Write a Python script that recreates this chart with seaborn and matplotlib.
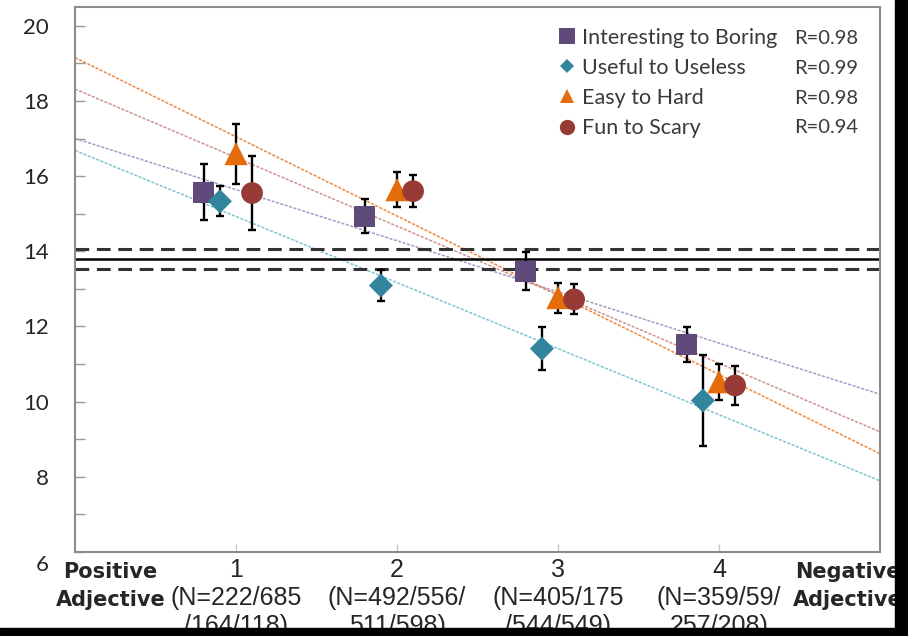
import numpy as np
import pandas as pd
import matplotlib
matplotlib.use('Agg')
import matplotlib.pyplot as plt
import matplotlib.transforms as mtransforms
from matplotlib.lines import Line2D
from matplotlib.patches import Rectangle
import seaborn as sns

# category positions on the scale and their labels
levels = [1, 2, 3, 4]
tick_labels = ['1\n(N=222/685\n/164/118)', '2\n(N=492/556/\n511/598)',
               '3\n(N=405/175\n/544/549)', '4\n(N=359/59/\n257/208)']

series = ['Interesting to Boring', 'Useful to Useless', 'Easy to Hard', 'Fun to Scary']
r_values = ['R=0.98', 'R=0.99', 'R=0.98', 'R=0.94']

# means and error bars
boring_mean = [15.57, 14.93, 13.47, 11.52]
boring_err = [0.75, 0.45, 0.50, 0.47]
useless_mean = [15.33, 13.09, 11.41, 10.03]
useless_err = [0.40, 0.41, 0.58, 1.20]
hard_mean = [16.60, 15.64, 12.77, 10.53]
hard_err = [0.80, 0.47, 0.40, 0.48]
scary_mean = [15.55, 15.60, 12.72, 10.43]
scary_err = [0.98, 0.43, 0.40, 0.53]

# overall mean with its band
baseline = 13.79
baseline_band = 0.27

dodge = {'Interesting to Boring': -0.2, 'Useful to Useless': -0.1,
         'Easy to Hard': 0.0, 'Fun to Scary': 0.1}
marker_colors = {'Interesting to Boring': '#604a7b', 'Useful to Useless': '#31859c',
                 'Easy to Hard': '#e46c0a', 'Fun to Scary': '#983a36'}
line_colors = {'Interesting to Boring': '#a89ac4', 'Useful to Useless': '#80c3d3',
               'Easy to Hard': '#f0873a', 'Fun to Scary': '#cc9490'}
marker_map = {'Interesting to Boring': 's', 'Useful to Useless': 'D',
              'Easy to Hard': '^', 'Fun to Scary': 'o'}
size_map = {'Interesting to Boring': 225, 'Useful to Useless': 150,
            'Easy to Hard': 280, 'Fun to Scary': 245}

means = [boring_mean, useless_mean, hard_mean, scary_mean]
errs = [boring_err, useless_err, hard_err, scary_err]
rows = []
for name, m, e in zip(series, means, errs):
    for lv, mv, ev in zip(levels, m, e):
        rows.append({'series': name, 'level': lv, 'xpos': lv + dodge[name],
                     'mean': mv, 'err': ev})
df = pd.DataFrame(rows)

sns.set_style('white')
plt.rcParams['font.family'] = ['Liberation Sans', 'DejaVu Sans']

fig = plt.figure(figsize=(9.08, 6.36), dpi=100)
ax = fig.add_axes([75 / 908, 1 - 552 / 636, 805 / 908, 545 / 636])
ax.set_xlim(0, 5)
ax.set_ylim(6, 20.5)

# regression lines across the whole axis
for name in series:
    sub = df[df.series == name]
    sns.regplot(x=sub.xpos, y=sub['mean'], ax=ax, scatter=False, ci=None,
                truncate=False, color=line_colors[name],
                line_kws={'lw': 1.1, 'ls': (0, (2, 1)), 'zorder': 1})

ax.axhline(baseline, color='black', lw=1.8, zorder=1.5)
ax.axhline(baseline + baseline_band, color='#333333', lw=2.2, dashes=(4.5, 2.5), zorder=1.5)
ax.axhline(baseline - baseline_band, color='#333333', lw=2.2, dashes=(4.5, 2.5), zorder=1.5)

ax.errorbar(df.xpos, df['mean'], yerr=df.err, fmt='none', ecolor='black',
            elinewidth=1.7, capsize=2.8, capthick=1.7, zorder=2)

sns.scatterplot(data=df, x='xpos', y='mean', hue='series', style='series', size='series',
                palette=marker_colors, markers=marker_map, sizes=size_map,
                linewidth=0, legend=False, ax=ax, zorder=3)

ax.set_xlim(0, 5)
ax.set_ylim(6, 20.5)
ax.set_xlabel('')
ax.set_ylabel('')

ax.set_yticks(np.arange(6, 21, 2))
ax.set_yticks(np.arange(7, 20, 2), minor=True)
ax.set_xticks(levels)
ax.set_xticklabels(tick_labels, fontsize=18, linespacing=1.22)
for lab in ax.get_yticklabels():
    lab.set_fontfamily('Lato')
    lab.set_fontsize(16)
ax.tick_params(axis='y', which='both', direction='in', length=7, width=1,
               color='#9a9a9a', pad=19, left=True)
ax.tick_params(axis='x', which='both', direction='in', length=6, width=1,
               color='#c8c8c8', pad=4, bottom=True)
# the lowest label sits a little lower in the original
lab6 = ax.get_yticklabels()[0]
lab6.set_transform(lab6.get_transform() + mtransforms.ScaledTranslation(0, -11 / 100, fig.dpi_scale_trans))

for sp in ax.spines.values():
    sp.set_color('#8c8c8c')
    sp.set_linewidth(1.5)

for xv, txt in [(0.22, 'Positive\nAdjective'), (4.8, 'Negative\nAdjective')]:
    ax.annotate(txt, xy=(xv, 0), xycoords=('data', 'axes fraction'),
                xytext=(0, -7), textcoords='offset points', ha='center', va='top',
                fontsize=15, fontweight='bold', family='DejaVu Sans',
                linespacing=1.5, annotation_clip=False)

handles = [Line2D([], [], ls='none', marker=marker_map[n], color=marker_colors[n],
                  markersize=ms, markeredgewidth=0)
           for n, ms in zip(series, [11, 7, 10, 11])]
leg = ax.legend(handles, series, loc='upper left', bbox_to_anchor=(0.601, 0.962),
                frameon=False, handlelength=0.8, handletextpad=0.28, labelspacing=0.47,
                borderpad=0, borderaxespad=0, prop={'family': 'Lato', 'size': 15.5})
for t in leg.get_texts():
    t.set_color('#3a3a3a')

for i, r in enumerate(r_values):
    ax.text(0.973, 0.942 - i * 0.0545, r, transform=ax.transAxes, ha='right', va='center',
            fontsize=14.5, family='Lato', color='#3a3a3a')

# dark crop border of the original picture
fig.patches.append(Rectangle((895 / 908, 0), 1, 1, transform=fig.transFigure,
                             color='black', zorder=10))
fig.patches.append(Rectangle((0, 0), 1, 8 / 636, transform=fig.transFigure,
                             color='black', zorder=10))

fig.savefig('out.png', dpi=100)
